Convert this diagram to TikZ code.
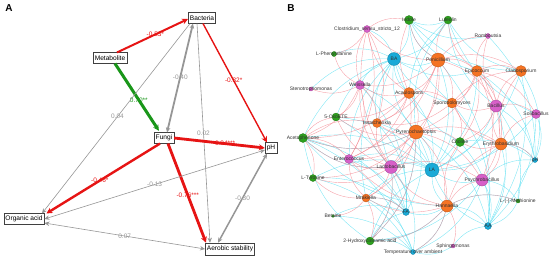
\documentclass[tikz,border=0pt]{standalone}
\usepackage{fontspec}
\setmainfont{Liberation Sans}
\usetikzlibrary{arrows, arrows.meta, backgrounds}
\definecolor{pathRed}{RGB}{230,20,20}
\definecolor{pathGreen}{RGB}{25,150,25}
\definecolor{pathGray}{RGB}{150,150,150}
\definecolor{edgeRed}{RGB}{242,125,135}
\definecolor{edgeCyan}{RGB}{75,220,240}
\definecolor{nodeOrange}{RGB}{245,115,35}
\definecolor{nodeGreen}{RGB}{45,160,30}
\definecolor{nodePink}{RGB}{215,95,200}
\definecolor{nodeCyan}{RGB}{25,170,215}
\tikzset{
  var/.style={draw=black!75, line width=0.6pt, fill=white, inner sep=1.6pt, minimum height=10.5pt, font=\fontsize{6.6}{7}\selectfont},
  coef/.style={font=\fontsize{6.5}{7}\selectfont, inner sep=0pt},
  bigtip/.style={>={Stealth[length=6pt, width=6pt]}},
  smalltip/.style={>={Stealth[length=5pt, width=4.5pt]}},
  taxon/.style={circle, draw=#1!75!black, fill=#1, line width=0.3pt, inner sep=0pt},
  taxlabel/.style={font=\fontsize{5}{5}\selectfont, text=black!80, inner sep=0pt},
  redlinks/.style={every edge/.style={draw=edgeRed, line width=0.4pt, draw opacity=0.7, bend left=22}},
  cyanlinks/.style={every edge/.style={draw=edgeCyan, line width=0.4pt, draw opacity=0.7, bend right=22}},
}

\begin{document}
\begin{tikzpicture}[x=1pt, y=-1pt, >=stealth']
\useasboundingbox (0,0) rectangle (550,258);

% panel A: path model
\node[font=\bfseries\fontsize{10}{10}\selectfont] (labA) at (9,8) {A};
\node[var] (bact) at (202,18) {Bacteria};
\node[var] (metab) at (110,58) {Metabolite};
\node[var] (fungi) at (164,138) {Fungi};
\node[var] (ph) at (271,148) {pH};
\node[var] (organic) at (24,219) {Organic acid};
\node[var, minimum height=12pt] (aerobic) at (230,249) {Aerobic stability};

\draw[->, bigtip, pathRed, line width=2pt] ([xshift=7pt]metab.north) -- ([yshift=-1pt]bact.west) node[coef, pos=.54, text=pathRed] {-0.53*};
\draw[->, bigtip, pathGreen, line width=3pt, shorten >=2pt] ([xshift=5pt]metab.south) -- ([xshift=-4pt]fungi.north) node[coef, pos=.53, text=pathGreen] {0.70**};
\draw[<->, smalltip, pathGray, line width=1.8pt] ([xshift=-9pt]bact.south) -- ([xshift=3pt]fungi.north) node[coef, pos=.49, text=pathGray] {-0.40};
\draw[->, smalltip, pathGray, line width=0.6pt] ([xshift=-12pt]bact.south) -- ([xshift=18pt]organic.north) node[coef, pos=.49, text=pathGray] {0.04};
\draw[->, smalltip, pathGray, line width=0.6pt] ([xshift=-5pt]bact.south) -- ([xshift=-20pt]aerobic.north) node[coef, pos=.5, text=pathGray] {0.02};
\draw[->, bigtip, pathRed, line width=1.4pt] ([xshift=1pt]bact.south) -- ([xshift=-4pt]ph.north) node[coef, pos=.48, text=pathRed] {-0.32*};
\draw[->, bigtip, pathRed, line width=2.8pt] (fungi.east) -- (ph.west) node[coef, pos=.55, text=pathRed] {-0.84***};
\draw[->, bigtip, pathRed, line width=2.4pt] ([xshift=-4pt]fungi.south) -- ([xshift=2pt]organic.north east) node[coef, pos=.53, text=pathRed] {-0.46*};
\draw[->, bigtip, pathRed, line width=2.8pt] ([xshift=4pt]fungi.south) -- ([xshift=-24pt]aerobic.north) node[coef, pos=.52, text=pathRed] {-0.76***};
\draw[<->, smalltip, pathGray, line width=0.6pt] (organic.east) -- ([yshift=-2pt]ph.west) node[coef, pos=.5, text=pathGray] {-0.13};
\draw[<->, smalltip, pathGray, line width=0.6pt] ([yshift=-4pt]organic.east) -- (aerobic.west) node[coef, pos=.5, text=pathGray] {0.07};
\draw[<->, smalltip, pathGray, line width=1.5pt] ([xshift=-4pt]ph.south) -- ([xshift=-12pt]aerobic.north) node[coef, pos=.5, text=pathGray] {-0.30};

% panel B: correlation network
\node[font=\bfseries\fontsize{10}{10}\selectfont] (labB) at (291,8) {B};
\node[taxon=nodePink, minimum size=7pt, label={[taxlabel]center:Clostridium\_sensu\_stricto\_12}] (clos) at (367,29) {};
\node[taxon=nodeGreen, minimum size=9pt, label={[taxlabel]center:Indole}] (indole) at (409,20) {};
\node[taxon=nodeGreen, minimum size=8pt, label={[taxlabel]center:Luteolin}] (luteolin) at (448,20) {};
\node[taxon=nodePink, minimum size=5pt, label={[taxlabel]center:Romboutsia}] (romb) at (488,36) {};
\node[taxon=nodeGreen, minimum size=5pt, label={[taxlabel]center:L-Phenylalanine}] (lphe) at (334,54) {};
\node[taxon=nodeCyan, minimum size=13pt, label={[taxlabel]center:BA}] (ba) at (394,59) {};
\node[taxon=nodeOrange, minimum size=14pt, label={[taxlabel]center:Penicillium}] (penic) at (438,60) {};
\node[taxon=nodeOrange, minimum size=11pt, label={[taxlabel]center:Epicoccum}] (epic) at (477,71) {};
\node[taxon=nodeOrange, minimum size=11pt, label={[taxlabel]center:Cladosporium}] (clad) at (521,71) {};
\node[taxon=nodePink, minimum size=9pt, label={[taxlabel]center:Weissella}] (weis) at (360,85) {};
\node[taxon=nodePink, minimum size=4pt, label={[taxlabel]center:Stenotrophomonas}] (steno) at (311,89) {};
\node[taxon=nodeOrange, minimum size=11pt, label={[taxlabel]center:Acaulospora}] (acaul) at (409,93) {};
\node[taxon=nodeOrange, minimum size=10pt, label={[taxlabel]center:Sporobolomyces}] (sporo) at (452,103) {};
\node[taxon=nodePink, minimum size=12pt, label={[taxlabel]center:Bacillus}] (bacil) at (496,106) {};
\node[taxon=nodePink, minimum size=9pt, label={[taxlabel]center:Solibacillus}] (solib) at (536,114) {};
\node[taxon=nodeGreen, minimum size=8pt, label={[taxlabel]center:5-OxoETE}] (oxo) at (336,117) {};
\node[taxon=nodeOrange, minimum size=9pt, label={[taxlabel]center:Issatchenkia}] (issat) at (377,123) {};
\node[taxon=nodeOrange, minimum size=14pt, label={[taxlabel]center:Pyrenochaetopsis}] (pyren) at (416,132) {};
\node[taxon=nodeGreen, minimum size=9pt, label={[taxlabel]center:Acetophenone}] (aceto) at (303,138) {};
\node[taxon=nodeGreen, minimum size=9pt, label={[taxlabel]center:Choline}] (choline) at (460,142) {};
\node[taxon=nodeOrange, minimum size=12pt, label={[taxlabel]center:Erythrobasidium}] (eryth) at (501,144) {};
\node[taxon=nodePink, minimum size=9pt, label={[taxlabel]center:Enterococcus}] (entero) at (349,159) {};
\node[taxon=nodeCyan, minimum size=5pt, label={[taxlabel]center:pH}] (phB) at (535,160) {};
\node[taxon=nodePink, minimum size=13pt, label={[taxlabel]center:Lactobacillus}] (lacto) at (391,167) {};
\node[taxon=nodeCyan, minimum size=14pt, label={[taxlabel]center:LA}] (la) at (432,170) {};
\node[taxon=nodeGreen, minimum size=7pt, label={[taxlabel]center:L-Tyrosine}] (ltyr) at (313,178) {};
\node[taxon=nodePink, minimum size=12pt, label={[taxlabel]center:Psychrobacillus}] (psych) at (482,180) {};
\node[taxon=nodeOrange, minimum size=8pt, label={[taxlabel]center:Mrakiella}] (mrak) at (366,198) {};
\node[taxon=nodeGreen, minimum size=4pt, label={[taxlabel]center:L-(-)-Methionine}] (lmet) at (518,201) {};
\node[taxon=nodeOrange, minimum size=12pt, label={[taxlabel]center:Hannaella}] (hann) at (447,206) {};
\node[taxon=nodeCyan, minimum size=7pt, label={[taxlabel]center:FA}] (fa) at (406,212) {};
\node[taxon=nodeGreen, minimum size=3pt, label={[taxlabel]center:Betaine}] (betaine) at (333,216) {};
\node[taxon=nodeCyan, minimum size=7pt, label={[taxlabel]center:AA}] (aa) at (488,226) {};
\node[taxon=nodeGreen, minimum size=8pt, label={[taxlabel]center:2-Hydroxycinnamic acid}] (hydroxy) at (370,241) {};
\node[taxon=nodePink, minimum size=4pt, label={[taxlabel]center:Sphingomonas}] (sphingo) at (453,246) {};
\node[taxon=nodeCyan, minimum size=5pt, label={[taxlabel]center:Temperature over ambient}] (temp) at (413,252) {};

\begin{pgfonlayer}{background}
% positive links
\path[cyanlinks] (ba) edge (clos) edge (lphe) edge (steno) edge (weis) edge (oxo) edge (aceto) edge (issat) edge (entero) edge (lacto) edge (acaul) edge (pyren) edge (penic) edge (indole) edge (luteolin) edge (sporo) edge (epic) edge (choline) edge (mrak);
\path[cyanlinks] (la) edge (penic) edge (epic) edge (clad) edge (sporo) edge (acaul) edge (pyren) edge (issat) edge (entero) edge (lacto) edge (choline) edge (eryth) edge (psych) edge (bacil) edge (solib) edge (hann) edge (aa) edge (mrak) edge (hydroxy) edge (ltyr) edge (oxo) edge (aceto) edge (weis);
\path[cyanlinks] (fa) edge (lacto) edge (entero) edge (mrak) edge (hydroxy) edge (betaine) edge (ltyr) edge (aceto) edge (hann) edge (issat) edge (pyren) edge (weis) edge (oxo);
\path[cyanlinks] (aa) edge (hann) edge (psych) edge (eryth) edge (lmet) edge (choline) edge (sphingo) edge (bacil) edge (solib) edge (clad) edge (penic) edge (sporo) edge (pyren);
\path[cyanlinks] (phB) edge (eryth) edge (bacil) edge (solib) edge (psych) edge (clad) edge (choline) edge (lmet) edge (epic) edge (romb);
\path[cyanlinks] (temp) edge (hydroxy) edge (hann) edge (lacto) edge (mrak) edge (sphingo) edge (ltyr) edge (aceto) edge (betaine) edge (psych);
\path[cyanlinks] (indole) edge (luteolin) edge (penic) edge (epic) edge (clad) edge (romb) edge (sporo);
\path[cyanlinks] (luteolin) edge (clad) edge (bacil) edge (solib) edge (acaul) edge (pyren);
\path[cyanlinks] (aceto) edge (lacto) edge (pyren) edge (hann) edge (hydroxy);
\path[cyanlinks] (hydroxy) edge (lacto) edge (pyren) edge (hann) edge (psych);
\path[cyanlinks] (lmet) edge (psych) edge (hann) edge (bacil);
% negative links
\path[redlinks] (penic) edge (clos) edge (weis) edge (acaul) edge (sporo) edge (bacil) edge (epic) edge (clad) edge (pyren) edge (lacto) edge (romb) edge (indole) edge (luteolin) edge (issat) edge (entero);
\path[redlinks] (epic) edge (luteolin) edge (romb) edge (clad) edge (bacil) edge (solib) edge (sporo) edge (eryth) edge (choline) edge (pyren) edge (psych);
\path[redlinks] (acaul) edge (weis) edge (clos) edge (issat) edge (pyren) edge (sporo) edge (lacto) edge (entero) edge (oxo) edge (aceto) edge (indole);
\path[redlinks] (pyren) edge (issat) edge (entero) edge (lacto) edge (choline) edge (eryth) edge (psych) edge (hann) edge (mrak) edge (oxo) edge (aceto) edge (ltyr) edge (hydroxy);
\path[redlinks] (hann) edge (psych) edge (lacto) edge (mrak) edge (hydroxy) edge (sphingo) edge (entero) edge (eryth) edge (choline) edge (temp) edge (lmet);
\path[redlinks] (lacto) edge (entero) edge (mrak) edge (hydroxy) edge (aceto) edge (ltyr) edge (weis) edge (clos) edge (oxo) edge (issat) edge (psych);
\path[redlinks] (eryth) edge (choline) edge (psych) edge (bacil) edge (solib) edge (clad) edge (sporo) edge (phB);
\path[redlinks] (bacil) edge (sporo) edge (solib) edge (clad) edge (choline) edge (psych) edge (romb);
\path[redlinks] (weis) edge (clos) edge (lphe) edge (steno) edge (oxo) edge (issat) edge (aceto) edge (entero);
\path[redlinks] (clos) edge (lphe) edge (issat) edge (indole) edge (entero);
\path[redlinks] (mrak) edge (entero) edge (hydroxy) edge (ltyr) edge (betaine) edge (fa);
\path[redlinks] (aceto) edge (entero) edge (ltyr) edge (oxo) edge (issat);
\path[redlinks] (sporo) edge (choline) edge (clad) edge (issat);
\end{pgfonlayer}
\end{tikzpicture}
\end{document}
